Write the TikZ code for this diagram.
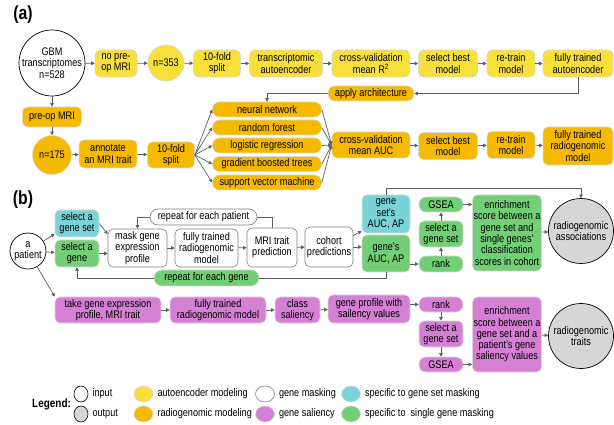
\documentclass[tikz,border=0pt]{standalone}
\usepackage{fontspec}
\setmainfont{Liberation Sans}[FakeStretch=0.83]
\usetikzlibrary{arrows.meta,shapes.geometric}

\definecolor{aeyellow}{HTML}{F8DF3A}
\definecolor{rgorange}{HTML}{F5B900}
\definecolor{gscyan}{HTML}{79D4D8}
\definecolor{sggreen}{HTML}{72CF75}
\definecolor{salpink}{HTML}{D580D5}
\definecolor{outgray}{HTML}{D6D6D6}
\definecolor{linegray}{HTML}{5E5E5E}

\tikzset{
  txt/.style={font=\fontsize{11}{11.3}\selectfont},
  box/.style={txt, draw=black!15, line width=0.6pt, rounded corners=5pt,
              align=center, inner sep=1pt},
  wh/.style 2 args={minimum width=#1pt, minimum height=#2pt},
  ae/.style={box, fill=aeyellow},
  rg/.style={box, fill=rgorange},
  gmask/.style={box, draw=black!50, fill=white},
  gs/.style={box, fill=gscyan},
  sg/.style={box, fill=sggreen},
  sal/.style={box, fill=salpink},
  inp/.style={txt, circle, draw=black, line width=0.7pt, fill=white, align=center, inner sep=-3pt},
  outp/.style={txt, circle, draw=black, line width=0.7pt, fill=outgray, align=center, inner sep=-3pt},
  arr/.style={-{Triangle[length=3.5pt,width=3.5pt]}, draw=linegray, line width=0.7pt},
  lne/.style={draw=linegray, line width=0.7pt},
  lgd/.style={ellipse, minimum width=19pt, minimum height=16pt, inner sep=0pt, line width=0.6pt},
  lgtxt/.style={txt, anchor=west, inner sep=0pt, xshift=4pt}
}

\begin{document}
\begin{tikzpicture}[x=1pt,y=-1pt]
  \useasboundingbox (0,0) rectangle (614,425);

  % (a) autoencoder and radiogenomic modeling
  \node[font=\bfseries\fontsize{19}{19}\selectfont] (labela) at (23,15) {(a)};
  \node[inp, minimum size=66pt] (gbm) at (52,63) {GBM\\transcriptomes\\n=528};
  \node[ae, wh={42}{27}] (nopre) at (116,63.5) {no pre-\\op MRI};
  \node[txt, circle, draw=black!15, line width=0.6pt, fill=aeyellow, minimum size=36pt, inner sep=0pt] (n353) at (166,63) {n=353};
  \node[ae, wh={47}{27}] (splitae) at (217,63.5) {10-fold\\split};
  \node[ae, wh={73}{27}] (tae) at (286,63.5) {transcriptomic\\autoencoder};
  \node[ae, wh={78}{27}] (cvrsq) at (371,63.5) {cross-validation\\mean R\textsuperscript{2}};
  \node[ae, wh={59}{27}] (bestae) at (448,63.5) {select best\\model};
  \node[ae, wh={48}{27}] (retrainae) at (511,63.5) {re-train\\model};
  \node[ae, wh={70}{27}] (ftae) at (578,63.5) {fully trained\\autoencoder};
  \node[rg, wh={86}{15}, rounded corners=7pt] (apply) at (371,93.5) {apply architecture};

  \node[rg, wh={59}{20}] (preop) at (52,117) {pre-op MRI};
  \node[txt, circle, draw=black!15, line width=0.6pt, fill=rgorange, minimum size=39pt, inner sep=0pt] (n175) at (52,155) {n=175};
  \node[rg, wh={58}{28}] (annot) at (108,154) {annotate\\an MRI trait};
  \node[rg, wh={47}{26}] (splitrg) at (171,155) {10-fold\\split};
  \node[rg, wh={109}{15}, rounded corners=7pt] (nn) at (267,109.5) {neural network};
  \node[rg, wh={109}{15}, rounded corners=7pt] (rf) at (267,127.5) {random forest};
  \node[rg, wh={109}{15}, rounded corners=7pt] (lr) at (267,145.5) {logistic regression};
  \node[rg, wh={109}{15}, rounded corners=7pt] (gbt) at (267,164) {gradient boosted trees};
  \node[rg, wh={109}{15}, rounded corners=7pt] (svm) at (267,182.5) {support vector machine};
  \node[rg, wh={78}{26}] (cvauc) at (371,145) {cross-validation\\mean AUC};
  \node[rg, wh={59}{27}] (bestrg) at (448,146) {select best\\model};
  \node[rg, wh={48}{27}] (retrainrg) at (511,145) {re-train\\model};
  \node[rg, wh={70}{38}] (ftrg) at (578,146) {fully trained\\radiogenomic\\model};

  \draw[arr] (gbm) -- (nopre);
  \draw[arr] (nopre) -- (n353);
  \draw[arr] (n353) -- (splitae);
  \draw[arr] (splitae) -- (tae);
  \draw[arr] (tae) -- (cvrsq);
  \draw[arr] (cvrsq) -- (bestae);
  \draw[arr] (bestae) -- (retrainae);
  \draw[arr] (retrainae) -- (ftae);
  \draw[arr] (ftae.south) |- (apply.east);
  \draw[arr] (apply.west) -| (nn.north);
  \draw[arr] (gbm) -- (preop);
  \draw[arr] (preop) -- (n175);
  \draw[arr] (n175) -- (annot);
  \draw[arr] (annot) -- (splitrg);
  \foreach \m in {nn,rf,lr,gbt,svm}{
    \draw[arr] (splitrg.east) -- (\m.west);
    \draw[arr] (\m.east) -- (cvauc.west);
  }
  \draw[arr] (cvauc) -- (bestrg);
  \draw[arr] (bestrg) -- (retrainrg);
  \draw[arr] (retrainrg) -- (ftrg);

  % (b) gene masking and gene saliency
  \node[font=\bfseries\fontsize{19}{19}\selectfont] (labelb) at (23,200) {(b)};
  \node[inp, minimum size=36pt] (pat) at (28,251) {a\\patient};
  \node[gs, wh={44}{27}] (selset) at (77,223.5) {select a\\gene set};
  \node[sg, wh={44}{27}] (selgene) at (77,253.5) {select a\\gene};
  \node[gmask, wh={59}{38}] (maskprof) at (137.5,248) {mask gene\\expression\\profile};
  \node[gmask, wh={63}{38}] (ftrgm) at (206.5,248) {fully trained\\radiogenomic\\model};
  \node[gmask, wh={50}{39}] (mripred) at (272,247.5) {MRI trait\\prediction};
  \node[gmask, wh={107}{16}, rounded corners=8pt] (reppat) at (203.5,217) {repeat for each patient};
  \node[gmask, wh={48}{40}] (cohort) at (329,247) {cohort\\predictions};
  \node[gs, wh={48}{38}] (setauc) at (386,214) {gene\\set's\\AUC, AP};
  \node[sg, wh={48}{37}] (geneauc) at (386,253.5) {gene's\\AUC, AP};
  \node[sg, wh={44}{15}, rounded corners=7pt] (gseam) at (441,204.5) {GSEA};
  \node[sg, wh={44}{26}] (selsetm) at (441,234) {select a\\gene set};
  \node[sg, wh={44}{16}, rounded corners=7pt] (rankm) at (441,264) {rank};
  \node[sg, wh={68}{76}] (enrm) at (507,233) {enrichment\\score between a\\gene set and\\single genes'\\classification\\scores in cohort};
  \node[outp, minimum size=65pt] (assoc) at (581,231) {radiogenomic\\associations};
  \node[sg, wh={105}{16}, rounded corners=8pt] (repgene) at (206.5,278) {repeat for each gene};

  \node[sal, wh={106}{26}] (take) at (108,310) {take gene expression\\profile, MRI trait};
  \node[sal, wh={96}{26}] (ftrgs) at (218,310) {fully trained\\radiogenomic model};
  \node[sal, wh={45}{26}] (clsal) at (297.5,310) {class\\saliency};
  \node[sal, wh={82}{28}] (geneprof) at (369,309) {gene profile with\\sailency values};
  \node[sal, wh={44}{15}, rounded corners=7pt] (ranks) at (441,304.5) {rank};
  \node[sal, wh={44}{26}] (selsets) at (441,334) {select a\\gene set};
  \node[sal, wh={44}{15}, rounded corners=7pt] (gseas) at (441,364.5) {GSEA};
  \node[sal, wh={68}{75}] (enrs) at (507,334.5) {enrichment\\score between a\\gene set and a\\patient's gene\\saliency values};
  \node[outp, minimum size=65pt] (traits) at (581,336) {radiogenomic\\traits};

  \draw[arr] (pat) -- (selset.205);
  \draw[arr] (pat) -- (selgene);
  \draw[arr] (pat) -- (take.north west);
  \draw[arr] (selset.east) -- (maskprof.155);
  \draw[arr] (selgene.east) -- (maskprof.west |- selgene.east);
  \draw[arr] (maskprof) -- (ftrgm);
  \draw[arr] (ftrgm) -- (mripred);
  \draw[arr] (mripred) -- (cohort);
  \draw[lne] (mripred.north) |- (reppat.east);
  \draw[arr] (reppat.west) -| (maskprof.north);
  \draw[arr] (cohort.25) -- (setauc.215);
  \draw[arr] (cohort.east) -- (geneauc.west |- cohort.east);
  \draw[arr] (setauc.north) -- ++(0,-6) -| (assoc.north);
  \draw[lne] (geneauc.south) |- (repgene.east);
  \draw[arr] (repgene.west) -| (selgene.south);
  \draw[arr] (geneauc.east |- rankm) -- (rankm.west);
  \draw[arr] (rankm) -- (selsetm);
  \draw[arr] (selsetm) -- (gseam);
  \draw[arr] (gseam.east) -- (enrm.west |- gseam.east);
  \draw[arr] (enrm) -- (assoc);

  \draw[arr] (take) -- (ftrgs);
  \draw[arr] (ftrgs) -- (clsal);
  \draw[arr] (clsal) -- (geneprof);
  \draw[arr] (geneprof.east |- ranks) -- (ranks.west);
  \draw[arr] (ranks) -- (selsets);
  \draw[arr] (selsets) -- (gseas);
  \draw[arr] (gseas.east) -- (enrs.west |- gseas.east);
  \draw[arr] (enrs) -- (traits);

  % legend
  \node[font=\bfseries\fontsize{12}{12}\selectfont, anchor=west, inner sep=0pt] (legend) at (32,404) {Legend:};
  \node[lgd, draw=black, minimum width=14pt] (lgin) at (81,394) {};
  \node[lgd, draw=black, fill=outgray, minimum width=14pt] (lgout) at (81,414) {};
  \node[lgd, draw=black!15, fill=aeyellow] (lgae) at (143.5,394) {};
  \node[lgd, draw=black!15, fill=rgorange] (lgrg) at (143.5,414) {};
  \node[lgd, draw=black!50, fill=white] (lgmask) at (265,394) {};
  \node[lgd, draw=black!15, fill=salpink] (lgsal) at (265,414) {};
  \node[lgd, draw=black!15, fill=gscyan] (lgset) at (351,394) {};
  \node[lgd, draw=black!15, fill=sggreen] (lggene) at (351,414) {};
  \node[lgtxt] at (lgin.east) {input};
  \node[lgtxt] at (lgout.east) {output};
  \node[lgtxt] at (lgae.east) {autoencoder modeling};
  \node[lgtxt] at (lgrg.east) {radiogenomic modeling};
  \node[lgtxt] at (lgmask.east) {gene masking};
  \node[lgtxt] at (lgsal.east) {gene saliency};
  \node[lgtxt] at (lgset.east) {specific to gene set masking};
  \node[lgtxt] at (lggene.east) {specific to\ \ single gene masking};
\end{tikzpicture}
\end{document}
